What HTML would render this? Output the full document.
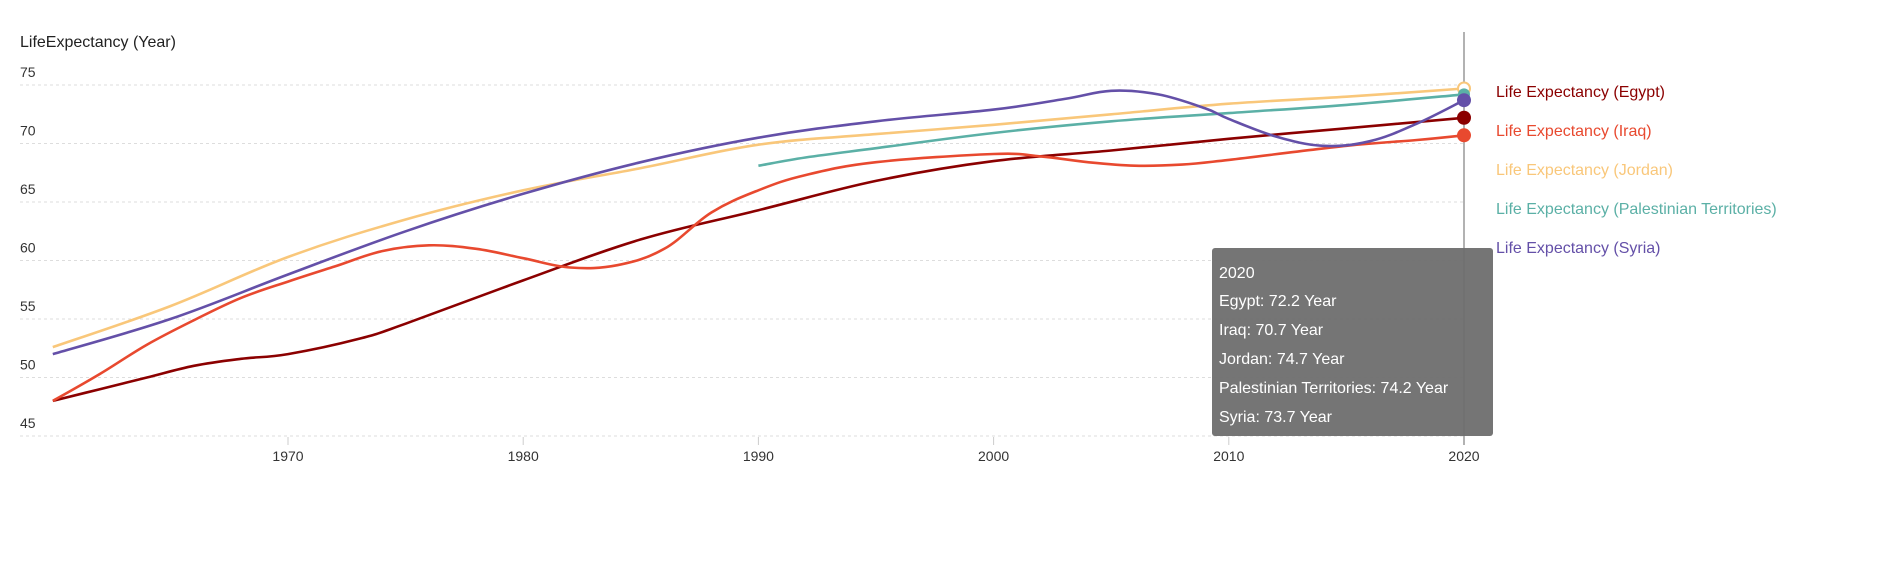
<!DOCTYPE html>
<html><head><meta charset="utf-8"><style>
body{margin:0;background:#fff;width:1879px;height:576px;overflow:hidden;font-family:"Liberation Sans",sans-serif}
svg{position:absolute;left:0;top:0}
</style></head><body>
<svg id="s" width="1879" height="576" xmlns="http://www.w3.org/2000/svg" font-family="Liberation Sans, sans-serif">
<text x="20" y="47" font-size="16" fill="#222">LifeExpectancy (Year)</text>
<g id="grid" stroke="#ddd" stroke-dasharray="3,3" stroke-width="1"></g>
<g id="yl" font-size="14" fill="#333"></g>
<g id="xl" font-size="14" fill="#333" text-anchor="middle"></g>
<line x1="1464" y1="32" x2="1464" y2="445" stroke="#888" stroke-width="1.3"/>
<g id="lines" fill="none" stroke-width="2.6" stroke-linejoin="round"></g>
<g id="marks"></g>
<g font-size="16">
<text x="1496" y="97" fill="#8b0000">Life Expectancy (Egypt)</text>
<text x="1496" y="136" fill="#e8492f">Life Expectancy (Iraq)</text>
<text x="1496" y="175" fill="#f9c77a">Life Expectancy (Jordan)</text>
<text x="1496" y="214" fill="#5bb0a6">Life Expectancy (Palestinian Territories)</text>
<text x="1496" y="253" fill="#6450a8">Life Expectancy (Syria)</text>
</g>
<rect x="1212" y="248" width="281" height="188" rx="3" fill="#6e6e6e" fill-opacity="0.95"/>
<g font-size="16" fill="#fff">
<text x="1219" y="278">2020</text>
<text x="1219" y="306">Egypt: 72.2 Year</text>
<text x="1219" y="335">Iraq: 70.7 Year</text>
<text x="1219" y="364">Jordan: 74.7 Year</text>
<text x="1219" y="393">Palestinian Territories: 74.2 Year</text>
<text x="1219" y="422">Syria: 73.7 Year</text>
</g>
</svg>
<script>
var NS="http://www.w3.org/2000/svg";
function el(p,t,a,txt){var e=document.createElementNS(NS,t);for(var k in a)e.setAttribute(k,a[k]);if(txt)e.textContent=txt;document.getElementById(p).appendChild(e);return e;}
function X(y){return 288+(y-1970)*23.52;}
function Y(v){return 85+(75-v)*11.7;}
for(var v=45;v<=75;v+=5){el("grid","line",{x1:20,x2:1464,y1:Y(v),y2:Y(v)});el("yl","text",{x:20,y:Y(v)-8},""+v);}
[1970,1980,1990,2000,2010,2020].forEach(function(y){el("grid","line",{x1:X(y),x2:X(y),y1:437,y2:445,"stroke-dasharray":"none",stroke:"#ccc"});el("xl","text",{x:X(y),y:461},""+y);});
var S=[
["#f9c77a",[[1960,52.6],[1965,56.1],[1970,60.3],[1975,63.5],[1980,66.0],[1985,67.9],[1990,69.9],[1995,70.8],[2000,71.6],[2005,72.5],[2010,73.4],[2015,74.0],[2020,74.7]]],
["#5bb0a6",[[1990,68.1],[1992,68.8],[1995,69.6],[2000,70.9],[2005,71.9],[2010,72.6],[2015,73.3],[2020,74.2]]],
["#8b0000",[[1960,48],[1962,49],[1964,50],[1966,51],[1968,51.6],[1970,52],[1973,53.3],[1975,54.6],[1980,58.3],[1985,61.8],[1990,64.3],[1995,66.8],[2000,68.5],[2005,69.4],[2010,70.4],[2015,71.3],[2020,72.2]]],
["#e8492f",[[1960,48],[1962,50.3],[1964,52.8],[1966,54.9],[1968,56.8],[1970,58.2],[1972,59.5],[1974,60.8],[1976,61.3],[1978,61],[1980,60.2],[1982,59.4],[1984,59.6],[1986,61],[1988,64.1],[1990,66],[1992,67.3],[1995,68.4],[2000,69.1],[2002,68.9],[2004,68.4],[2006,68.1],[2008,68.2],[2010,68.6],[2015,69.8],[2018,70.3],[2020,70.7]]],
["#6450a8",[[1960,52.0],[1965,55.0],[1970,58.8],[1975,62.5],[1980,65.7],[1985,68.4],[1990,70.5],[1995,71.9],[2000,72.9],[2003,73.8],[2005,74.5],[2007,74.2],[2009,73.0],[2010,72.1],[2012,70.6],[2014,69.8],[2016,70.2],[2018,71.7],[2020,73.7]]]
];
function path(pts){var P=pts.map(function(p){return [X(p[0]),Y(p[1])];});var d="M"+P[0][0].toFixed(1)+","+P[0][1].toFixed(1);
for(var i=0;i<P.length-1;i++){var p0=P[Math.max(0,i-1)],p1=P[i],p2=P[i+1],p3=P[Math.min(P.length-1,i+2)];var t=0.18;
var c1=[p1[0]+(p2[0]-p0[0])*t,p1[1]+(p2[1]-p0[1])*t],c2=[p2[0]-(p3[0]-p1[0])*t,p2[1]-(p3[1]-p1[1])*t];
d+="C"+c1[0].toFixed(1)+","+c1[1].toFixed(1)+" "+c2[0].toFixed(1)+","+c2[1].toFixed(1)+" "+p2[0].toFixed(1)+","+p2[1].toFixed(1);}return d;}
S.forEach(function(s){el("lines","path",{d:path(s[1]),stroke:s[0]});});
el("marks","circle",{cx:X(2020),cy:Y(74.7),r:6,fill:"#fff",stroke:"#f9c77a","stroke-width":2});
el("marks","circle",{cx:X(2020),cy:Y(74.2),r:6,fill:"#5bb0a6"});
el("marks","circle",{cx:X(2020),cy:Y(72.2),r:7,fill:"#8b0000"});
el("marks","circle",{cx:X(2020),cy:Y(70.7),r:7,fill:"#e8492f"});
el("marks","circle",{cx:X(2020),cy:Y(73.7),r:7,fill:"#6450a8"});
</script>
</body></html>
